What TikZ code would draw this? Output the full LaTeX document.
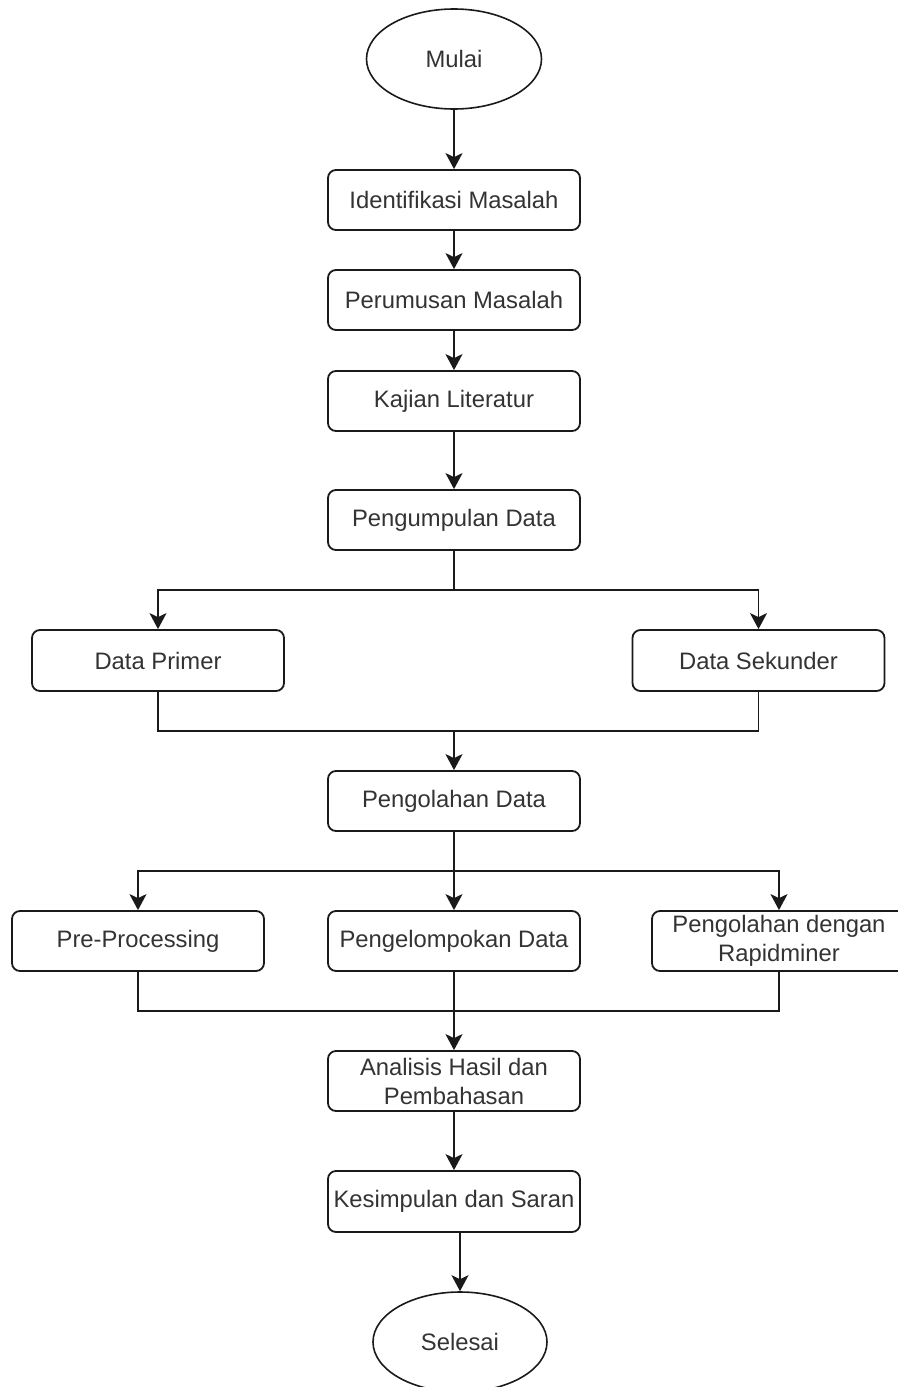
\documentclass[tikz,border=0pt]{standalone}
\usepackage{fontspec}
\setmainfont{Liberation Sans}
\usetikzlibrary{shapes.geometric,arrows.meta}
\definecolor{txt}{HTML}{333333}
\definecolor{ln}{HTML}{1A1A1A}
\begin{document}
\begin{tikzpicture}[x=1pt,y=-1pt,
  every node/.style={font=\fontsize{23.8}{29}\selectfont, text=txt},
  box/.style={draw=ln, line width=1.8pt, rectangle, rounded corners=8pt, minimum width=252pt, minimum height=60pt, inner sep=0pt, align=center},
  term/.style={draw=ln, line width=1.6pt, ellipse, minimum width=175pt, minimum height=100pt, inner sep=0pt},
  conn/.style={draw=ln, line width=1.8pt},
  arr/.style={conn, -{Stealth[length=16pt, width=17pt, inset=4pt]}}]
\useasboundingbox (0,0) rectangle (897,1387);
\node[term] (mulai) at (454,59) {Mulai};
\node[box] (ident) at (454,200) {Identifikasi Masalah};
\node[box] (perum) at (454,300) {Perumusan Masalah};
\node[box] (kajian) at (454,401) {Kajian Literatur};
\node[box] (kumpul) at (454,520) {Pengumpulan Data};
\node[box, minimum height=61pt] (primer) at (158,660.5) {Data Primer};
\node[box, minimum height=61pt] (sekunder) at (758.5,660.5) {Data Sekunder};
\node[box] (olah) at (454,801) {Pengolahan Data};
\node[box] (pre) at (138,941) {Pre-Processing};
\node[box] (kelompok) at (454,941) {Pengelompokan Data};
\node[box, minimum width=254pt] (rapid) at (779,941) {Pengolahan dengan\\Rapidminer};
\node[box] (analisis) at (454,1081) {Analisis Hasil dan\\Pembahasan};
\node[box, minimum height=61pt] (simpul) at (454,1201.5) {Kesimpulan dan Saran};
\node[term, minimum width=174pt] (selesai) at (460,1342) {Selesai};

\coordinate (j1) at (454,590);
\coordinate (m1) at (454,731);
\coordinate (j2) at (454,871);
\coordinate (m2) at (454,1011);

\draw[arr] (mulai.south) -- (ident.north);
\draw[arr] (ident.south) -- (perum.north);
\draw[arr] (perum.south) -- (kajian.north);
\draw[arr] (kajian.south) -- (kumpul.north);
\draw[conn] (kumpul.south) -- (j1);
\draw[arr] (j1) -| (primer.north);
\draw[arr] (j1) -| (sekunder.north);
\draw[conn] (primer.south) |- (m1);
\draw[conn] (sekunder.south) |- (m1);
\draw[arr] (m1) -- (olah.north);
\draw[conn] (olah.south) -- (j2);
\draw[arr] (j2) -| (pre.north);
\draw[arr] (j2) -- (kelompok.north);
\draw[arr] (j2) -| (rapid.north);
\draw[conn] (pre.south) |- (m2);
\draw[conn] (kelompok.south) -- (m2);
\draw[conn] (rapid.south) |- (m2);
\draw[arr] (m2) -- (analisis.north);
\draw[arr] (analisis.south) -- (simpul.north);
\draw[arr] (simpul.south -| selesai.north) -- (selesai.north);
\end{tikzpicture}
\end{document}
